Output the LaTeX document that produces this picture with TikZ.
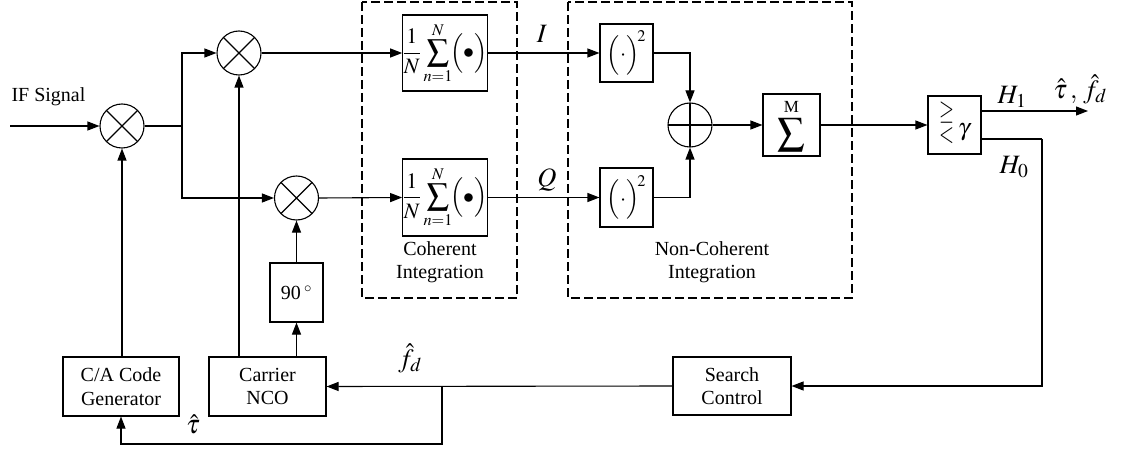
\documentclass[tikz,border=0pt]{standalone}
\usepackage{amsmath,amssymb}
\usepackage{mathptmx}
\usepackage{graphicx}
\usepackage{fontspec}
\setmainfont{Liberation Serif}
\usetikzlibrary{arrows.meta,calc}

\tikzset{
  wire/.style={line width=1.1pt},
  arr/.style={wire,-{Triangle[length=12pt,width=9pt]}},
  blk/.style={draw,line width=1.1pt,inner sep=0pt,align=center,font=\fontsize{20}{23.5}\selectfont},
  mixer/.style={draw,circle,line width=1.1pt,minimum size=44pt,inner sep=0pt,
    path picture={\draw[line width=1.1pt] (path picture bounding box.north west) -- (path picture bounding box.south east)
      (path picture bounding box.north east) -- (path picture bounding box.south west);}},
  adder/.style={draw,circle,line width=1.1pt,minimum size=44pt,inner sep=0pt,
    path picture={\draw[line width=1.1pt] (path picture bounding box.north) -- (path picture bounding box.south)
      (path picture bounding box.west) -- (path picture bounding box.east);}},
  group/.style={draw,line width=1.1pt,dash pattern=on 9pt off 4pt},
  lbl/.style={font=\fontsize{20}{23.5}\selectfont,align=center},
  mlbl/.style={font=\fontsize{26.5}{30}\selectfont,inner sep=0pt}
}

\begin{document}
\begin{tikzpicture}[x=1pt,y=-1pt]
\useasboundingbox (0,0) rectangle (1124,449);

% integration groups
\draw[group] (362,2) rectangle (517,298);
\draw[group] (568,2) rectangle (852,298);
\node[lbl] (cohtxt) at (440,262) {Coherent\\Integration};
\node[lbl] (ncohtxt) at (712,262) {Non-Coherent\\Integration};

% mixers
\node[mixer] (m1) at (122,126) {};
\node[mixer] (m2) at (239,53) {};
\node[mixer] (m3) at (296.5,198) {};

% coherent sums
\node[blk,minimum width=84pt,minimum height=76pt,font=\fontsize{22}{26}\selectfont] (sumI) at (445,53)
  {$\displaystyle\frac{1}{N}\sum_{n=1}^{N}\!\Bigl(\bullet\Bigr)$};
\node[blk,minimum width=84pt,minimum height=77pt,font=\fontsize{22}{26}\selectfont] (sumQ) at (445,197.5)
  {$\displaystyle\frac{1}{N}\sum_{n=1}^{N}\!\Bigl(\bullet\Bigr)$};

% squarers, adder, non-coherent sum
\node[blk,minimum width=53pt,minimum height=58pt,font=\fontsize{22}{26}\selectfont] (sqI) at (626.5,53) {$\Bigl(\cdot\Bigr)^{\!2}$};
\node[blk,minimum width=53pt,minimum height=59pt,font=\fontsize{22}{26}\selectfont] (sqQ) at (626.5,197.5) {$\Bigl(\cdot\Bigr)^{\!2}$};
\node[adder] (add) at (690,125) {};
\node[blk,minimum width=57pt,minimum height=62pt,font=\fontsize{27}{30}\selectfont] (sigM) at (791.5,125)
  {$\displaystyle\sum^{\text{\fontsize{17}{17}\selectfont M}}$};

% decision: greater-equal over less, then the threshold
\node[blk,minimum width=53pt,minimum height=58pt,font=\fontsize{24}{28}\selectfont] (dec) at (954.5,125)
  {\raisebox{4pt}{\scalebox{0.8}[1.15]{$\begin{array}{@{}c@{}}\geq\\[-8pt]<\end{array}$}}\,$\gamma$};

% loop blocks
\node[blk,minimum width=116pt,minimum height=59pt] (ca) at (121,386.5) {C/A Code\\Generator};
\node[blk,minimum width=117pt,minimum height=59pt] (nco) at (267.5,386.5) {Carrier\\NCO};
\node[blk,minimum width=53pt,minimum height=59pt] (p90) at (296.5,292.5) {90\,$^{\circ}$};
\node[blk,minimum width=118pt,minimum height=58pt] (srch) at (732,386) {Search\\Control};

% helper points
\coordinate (in) at (10,126);
\coordinate (split) at (182,126);
\coordinate (h1end) at (1088,111);
\coordinate (h0corner) at (1042,139);
\coordinate (fbjoin) at (442,387);

% input and mixing
\node[lbl,anchor=west] (iftxt) at (8,97) {IF Signal};
\draw[arr] (in) -- (m1.west);
\draw[wire] (m1.east) -- (split);
\draw[arr] (split) |- (m2.west);
\draw[arr] (split) |- (m3.west);
\draw[arr] (m2.east) -- (sumI.west);
\draw[arr] (m3.east) -- (sumQ.west);

% I and Q branches
\draw[arr] (sumI.east) -- (sqI.west);
\draw[arr] (sumQ.east) -- (sqQ.west);
\node[mlbl] (Ilbl) at (542,34) {$I$};
\node[mlbl] (Qlbl) at (547,180) {$Q$};
\draw[arr] (sqI.east) -| (add.north);
\draw[arr] (sqQ.east) -| (add.south);
\draw[arr] (add.east) -- (sigM.west);
\draw[arr] (sigM.east) -- (dec.west);

% decision outputs
\draw[arr] (dec.east |- h1end) -- (h1end);
\node[mlbl] (h1lbl) at (1012,97) {$H_1$};
\node[mlbl] (estlbl) at (1080,89) {$\hat{\tau}\,,\,\hat{f}_{d}$};
\draw[wire] (dec.east |- h0corner) -- (h0corner);
\node[mlbl] (h0lbl) at (1014,167) {$H_0$};
\draw[arr] (h0corner) |- (srch.east);

% feedback to the local generators
\draw[arr] (srch.west) -- (nco.east);
\draw[arr] (fbjoin) -- (442,444) -| (ca.south);
\node[mlbl] (fdlbl) at (410,358) {$\hat{f}_{d}$};
\node[mlbl] (taulbl) at (193,424) {$\hat{\tau}$};

% local replicas into the mixers
\draw[arr] (ca.north -| m1) -- (m1.south);
\draw[arr] (nco.north -| m2) -- (m2.south);
\draw[arr] (nco.north -| p90) -- (p90.south);
\draw[arr] (p90.north) -- (m3.south);
\end{tikzpicture}
\end{document}
